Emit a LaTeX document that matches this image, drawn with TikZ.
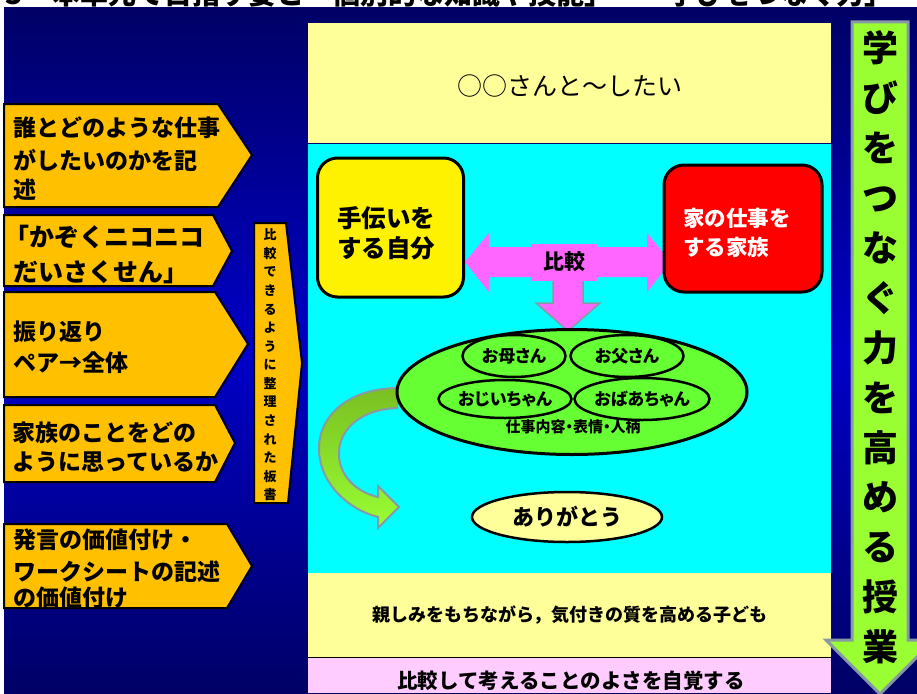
\documentclass[tikz,border=0pt]{standalone}
\usepackage{fontspec}
\setmainfont{Noto Sans CJK JP}
\newfontfamily\jpp[RawFeature=+palt]{Noto Sans CJK JP}
\usetikzlibrary{shapes.geometric}
\definecolor{bgdark}{HTML}{000066}
\definecolor{bgmid}{HTML}{0000C8}
\definecolor{orangeA}{HTML}{FFC000}
\definecolor{paleY}{HTML}{FFFF99}
\definecolor{cyanA}{HTML}{00FFFF}
\definecolor{pinkA}{HTML}{FF66FF}
\definecolor{pinkB}{HTML}{FFCCFF}
\definecolor{greenA}{HTML}{66FF33}
\definecolor{limeA}{HTML}{99FF33}
\definecolor{oliveA}{HTML}{7ABF22}
\definecolor{grayA}{HTML}{8899A6}
\tikzset{
  lbox/.style={fill=orangeA, draw=black, line width=2, line join=miter},
  ltext/.style={anchor=west, inner sep=0, font=\bfseries\fontsize{23}{23}\selectfont},
  famell/.style={ellipse, draw=black, line width=2.5, fill=greenA, inner sep=0},
  famtext/.style={font=\jpp\bfseries\fontsize{17}{17}\selectfont},
  blockarrow/.style={fill=pinkA},
}
\begin{document}
\begin{tikzpicture}[x=1pt,y=-1pt]
\useasboundingbox (0,0) rectangle (917,693);
\fill[white] (0,0) rectangle (917,693);
% title (cut off at the top)
\node[anchor=base west, inner sep=0, font=\bfseries\fontsize{28}{28}\selectfont] (title) at (5,5) {3\hspace{30pt}本単元で目指す姿と「個別的な知識や技能」・「学びをつなぐ力」};
% background
\fill[top color=bgdark, bottom color=bgdark, middle color=bgmid] (4,8) rectangle (917,693);

% left pentagons
\draw[lbox] (4,104) -- (218,104) -- (252,155) -- (218,207) -- (4,207) -- cycle;
\draw[lbox] (4,215) -- (213,215) -- (232,251) -- (213,286) -- (4,286) -- cycle;
\draw[lbox] (4,292) -- (215,292) -- (248,344) -- (215,397) -- (4,397) -- cycle;
\draw[lbox] (4,405) -- (215,405) -- (235,443) -- (215,482) -- (4,482) -- cycle;
\draw[lbox] (4,524) -- (227,524) -- (252,566) -- (227,608) -- (4,608) -- cycle;
\draw[lbox] (254,223) -- (286,223) -- (302,363) -- (288,503) -- (254,503) -- cycle;

\node[ltext] (a1) at (13,128) {誰とどのような仕事};
\node[ltext] (a2) at (13,160) {がしたいのかを記};
\node[ltext] (a3) at (13,190) {述};
\node[ltext, font=\bfseries\fontsize{25}{25}\selectfont] (b1) at (4,237) {「かぞくニコニコ};
\node[ltext, font=\bfseries\fontsize{25}{25}\selectfont] (b2) at (13,272) {だいさくせん」};
\node[ltext] (c1) at (13,332) {振り返り};
\node[ltext] (c2) at (13,363) {ペア→全体};
\node[ltext] (d1) at (12,433) {家族のことをどの};
\node[ltext] (d2) at (12,462) {ように思っているか};
\node[ltext] (e1) at (13,540) {発言の価値付け・};
\node[ltext] (e2) at (13,572) {ワークシートの記述};
\node[ltext] (e3) at (13,598) {の価値付け};
\node[inner sep=0, align=center, font=\bfseries\fontsize{13}{18.57}\selectfont] (vt) at (270,365)
  {比\\較\\で\\き\\る\\よ\\う\\に\\整\\理\\さ\\れ\\た\\板\\書};

% center panels
\fill[paleY] (308,23) rectangle (831,143);
\node[inner sep=0, font=\fontsize{25}{25}\selectfont] (goal) at (570,86) {○○さんと〜したい};
\fill[cyanA] (308,143) rectangle (831,573);
\draw[bgdark, line width=1] (308,143) -- (831,143);
\fill[paleY] (308,573) rectangle (831,657);
\fill[pinkB] (308,657) rectangle (831,693);
\draw[black, line width=1] (308,657) -- (831,657);
\node[inner sep=0, font=\bfseries\fontsize{18}{18}\selectfont] (child) at (570,615) {親しみをもちながら，気付きの質を高める子ども};
\node[inner sep=0, font=\bfseries\fontsize{20.5}{20.5}\selectfont] (aware) at (571,681) {比較して考えることのよさを自覚する};

% pink arrows
\draw[blockarrow, draw=grayA, line width=1.5] (553,278) -- (553,303) -- (536,303) -- (568,331) -- (600,303) -- (583,303) -- (583,278);
\fill[blockarrow] (465,262) -- (489,233) -- (489,247) -- (647,247) -- (647,233) -- (671,262) -- (647,292) -- (647,277) -- (489,277) -- (489,292) -- cycle;
\node[fill=pinkA, minimum width=66, minimum height=37, inner sep=0, font=\bfseries\fontsize{21}{21}\selectfont] (cmp) at (564,262) {比較};

% boxes
\node[draw=black, line width=3, fill=yellow, rounded corners=20, minimum width=146, minimum height=139] (self) at (390.5,227.5) {};
\node[inner sep=0, align=left, font=\bfseries\fontsize{24.5}{30}\selectfont] (selft) at (386,233) {手伝いを\\する自分};
\node[draw=black, line width=3, fill=red, rounded corners=20, minimum width=158, minimum height=127] (fam) at (743,228.5) {};
\node[inner sep=0, align=left, text=white, font=\bfseries\fontsize{21.5}{29}\selectfont] (famt) at (737,232.5) {家の仕事を\\する家族};

% curved arrow
\draw[top color=oliveA, bottom color=limeA, draw=grayA, line width=2]
  (398,388) .. controls (350,388) and (318,415) .. (319,450)
  .. controls (320,485) and (350,510) .. (378,517) -- (378,528) -- (399,507) -- (378,486) -- (378,497)
  .. controls (356,492) and (338,475) .. (339,452)
  .. controls (340,428) and (362,409) .. (398,408);

% family ellipse
\node[famell, line width=3, minimum width=350, minimum height=125] (big) at (572,392) {};
\node[famell, minimum width=103, minimum height=42, famtext] (mom) at (514,356) {お母さん};
\node[famell, minimum width=113, minimum height=42, famtext] (dad) at (627,356) {お父さん};
\node[famell, minimum width=124, minimum height=38, famtext] (gpa) at (505,399) {おじいちゃん};
\node[famell, minimum width=131, minimum height=42, famtext] (gma) at (642,399) {おばあちゃん};
\node[inner sep=0, font=\jpp\bfseries\fontsize{15}{15}\selectfont] (attr) at (573,427) {仕事内容・表情・人柄};

\node[ellipse, draw=black, line width=2.5, fill=paleY, minimum width=190, minimum height=50, inner sep=0, font=\bfseries\fontsize{22}{22}\selectfont] (thanks) at (567,517) {ありがとう};

% right arrow
\draw[fill=limeA, draw=grayA, line width=3, line join=miter] (852,22) -- (908,22) -- (908,640) -- (934,640) -- (880,694) -- (826,640) -- (852,640) -- cycle;
\node[inner sep=0, align=center, font=\bfseries\fontsize{36}{49.9}\selectfont] (rt) at (880,347.5)
  {学\\び\\を\\つ\\な\\ぐ\\力\\を\\高\\め\\る\\授\\業};
\end{tikzpicture}
\end{document}
